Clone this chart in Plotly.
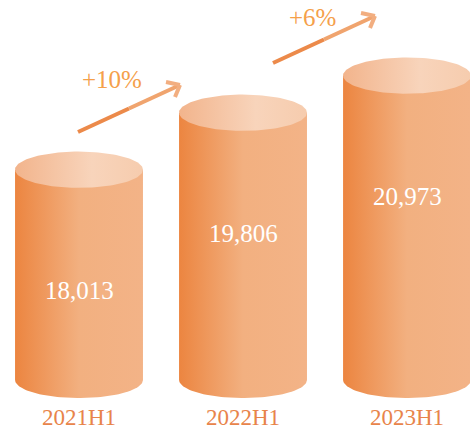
import numpy as np
import plotly.graph_objects as go

categories = ["2021H1", "2022H1", "2023H1"]
values = [18013, 19806, 20973]

# layout constants
W, H = 470, 432
BASE = 11400          # value where cylinders stand
Y_RANGE = [9762, 23351]
X_RANGE = [-0.4817, 2.384]
HALF_W = 0.39         # cylinder half width (x data units)
RY = 570              # ellipse vertical radius (y data units)
LABEL_OFFSET = 3800

SERIF = "Liberation Serif, Times New Roman, serif"

body_scale = [[0, "#EC8540"], [0.5, "#F2B080"], [1, "#F3B387"]]
top_scale = [[0, "#F2B48C"], [0.6, "#F8D4BB"], [1, "#F6CCAE"]]

fig = go.Figure()
t = np.linspace(0, np.pi, 60)
full = np.linspace(0, 2 * np.pi, 120)

for i, v in enumerate(values):
    xl, xr = i - HALF_W, i + HALF_W
    # body: rectangle + lower half ellipse at the base
    bx = [xl, xr, xr] + list(i + HALF_W * np.cos(t)) + [xl, xl]
    by = [v, v, BASE] + list(BASE - RY * np.sin(t)) + [BASE, v]
    fig.add_trace(go.Scatter(
        x=bx, y=by, mode="lines", fill="toself", line=dict(width=0),
        fillgradient=dict(type="horizontal", colorscale=body_scale),
        hoverinfo="skip"))
    # top ellipse
    fig.add_trace(go.Scatter(
        x=list(i + HALF_W * np.cos(full)), y=list(v + RY * np.sin(full)),
        mode="lines", fill="toself", line=dict(width=0),
        fillgradient=dict(type="horizontal", colorscale=top_scale),
        hoverinfo="skip"))
    # value label
    fig.add_annotation(x=i, y=v - LABEL_OFFSET, text=f"{v:,}", showarrow=False,
                       font=dict(family=SERIF, size=25, color="white"))
    # category label
    fig.add_annotation(x=i, y=1 - 417 / H, yref="paper", yanchor="middle",
                       text=categories[i], showarrow=False,
                       font=dict(family=SERIF, size=23, color="#E8844A"))

# growth arrows (pixel positions of decoration)
arrows = [
    dict(tail=(78, 132), tip=(180, 85), a1=(166, 82), a2=(175, 97), label=(112, 80)),
    dict(tail=(273, 63), tip=(375, 16), a1=(361, 13), a2=(370, 28), label=(312, 17)),
]
def px(p):
    return p[0] / W, 1 - p[1] / H

for k, a in enumerate(arrows):
    growth = (values[k + 1] - values[k]) / values[k] * 100
    (x0, y0), (x1, y1) = px(a["tail"]), px(a["tip"])
    xm, ym = (x0 + x1) / 2, (y0 + y1) / 2
    fig.add_shape(type="line", xref="paper", yref="paper", x0=x0, y0=y0, x1=xm, y1=ym,
                  line=dict(color="#EC8A4A", width=4))
    fig.add_shape(type="line", xref="paper", yref="paper", x0=xm, y0=ym, x1=x1, y1=y1,
                  line=dict(color="#F0A46E", width=4))
    for arm in (a["a1"], a["a2"]):
        ax, ay = px(arm)
        fig.add_shape(type="line", xref="paper", yref="paper", x0=ax, y0=ay, x1=x1, y1=y1,
                      line=dict(color="#F2AE80", width=4))
    lx, ly = px(a["label"])
    fig.add_annotation(x=lx, y=ly, xref="paper", yref="paper",
                       xanchor="center", yanchor="middle",
                       text=f"+{round(growth)}%", showarrow=False,
                       font=dict(family=SERIF, size=25, color="#F5A04A"))

fig.update_layout(
    width=W, height=H, margin=dict(l=0, r=0, t=0, b=0),
    paper_bgcolor="white", plot_bgcolor="white", showlegend=False,
    xaxis=dict(range=X_RANGE, visible=False, fixedrange=True),
    yaxis=dict(range=Y_RANGE, visible=False, fixedrange=True),
)
fig.write_html("out.html", config=dict(displayModeBar=False),
               post_script="document.body.style.margin='0';document.body.style.overflow='hidden';")
